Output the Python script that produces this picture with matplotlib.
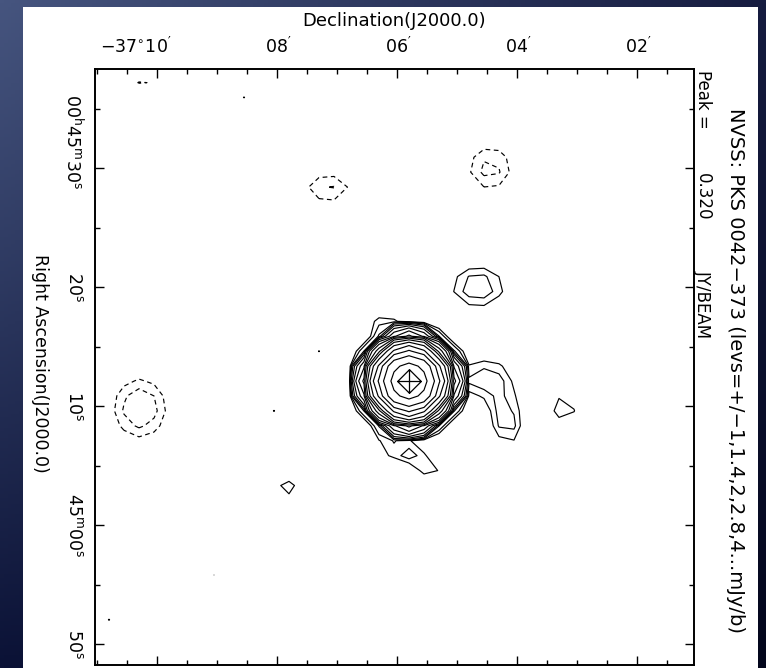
import numpy as np
import matplotlib
matplotlib.use("Agg")
import matplotlib.pyplot as plt
from matplotlib import transforms
from matplotlib.path import Path
from matplotlib.patches import Rectangle
from matplotlib.colors import to_rgb

plt.rcParams["font.family"] = ["DejaVu Sans"]
plt.rcParams["mathtext.default"] = "regular"

# ---- source model: NVSS components -------------------------------------
# x: declination offset in arcmin (x = -10 is -37°10'), y: RA seconds after 00h45m00s
# profile power 2 = gaussian; the core is flatter-topped than a gaussian
comp_dec = [-5.800,
            -4.500, -4.200, -4.150,
            -6.083, -5.700, -5.450, -6.233,
            -4.650, -3.217, -7.833,
            -7.300, -9.067, -10.783,
            -4.450, -7.150, -10.283, -8.533, -10.200, -8.050, -10.783]
comp_ra = [12.10,
           12.35, 9.66, 7.73,
           6.55, 5.71, 4.71, 17.39,
           20.00, 9.83, 3.03,
           14.54, -4.29, 18.24,
           30.00, 28.32, 9.83, 36.13, 37.23, 9.50, -7.98]
comp_peak = [320.0,
             1.85, 1.6, 1.4,
             1.8, 1.4, 1.5, 1.3,
             1.9, 1.35, 1.3,
             1.03, 1.02, 1.02,
             -1.65, -1.5, -1.95, -1.06, -1.10, -1.04, -1.04]
comp_sig_dec = [25,
                20, 12, 10,
                16, 10, 10, 16,
                22, 14, 14,
                8, 8, 8,
                20, 22, 22, 10, 18, 8, 8]
comp_sig_ra = [25,
               15, 14, 10,
               8, 6, 6, 8,
               17, 16, 12,
               8, 8, 8,
               20, 15, 25, 10, 8, 8, 8]
comp_power = [3] + [2] * 20

peak_jy = 0.320
lev_base = 1.0          # mJy/beam
n_pos_levels = 17
n_neg_levels = 4

dec_ticks = [-10, -8, -6, -4, -2]
dec_labels = [r"$-37^{\circ}10^{\prime}$", r"$08^{\prime}$", r"$06^{\prime}$",
              r"$04^{\prime}$", r"$02^{\prime}$"]
ra_ticks = [30, 20, 10, 0, -10]
ra_labels = [r"$00^{h}45^{m}30^{s}$", r"$20^{s}$", r"$10^{s}$",
             r"$45^{m}00^{s}$", r"$50^{s}$"]

W, H = 766, 668
DPI = 100

# ---- sky grid (15 arcsec pixels, centred on the main peak) -------------
pix = 15.0
sec_to_arcsec = 15.0 * np.cos(np.radians(37.1))
g = np.arange(-330, 331, pix)
GX, GY = np.meshgrid(g, g)
X = comp_dec[0] + GX / 60.0
Y = comp_ra[0] + GY / sec_to_arcsec
F = np.zeros_like(X)
for xd, yr, a, sx, sy, p in zip(comp_dec, comp_ra, comp_peak, comp_sig_dec,
                                comp_sig_ra, comp_power):
    dx = (X - xd) * 60.0
    dy = (Y - yr) * sec_to_arcsec
    q = (dx / sx) ** 2 + (dy / sy) ** 2
    F += a * np.exp(-0.5 * q ** (p / 2.0))

pos_levels = lev_base * np.sqrt(2.0) ** np.arange(n_pos_levels)
neg_levels = -lev_base * np.sqrt(2.0) ** np.arange(n_neg_levels)[::-1]

# ---- figure -------------------------------------------------------------
fig = plt.figure(figsize=(W / DPI, H / DPI), dpi=DPI)

def fx(px):
    return px / W

def fy(py):
    return 1 - py / H

# dark sky backdrop
bg = fig.add_axes([0, 0, 1, 1], zorder=-10)
bg.set_axis_off()
tl, tr = np.array(to_rgb("#46557f")), np.array(to_rgb("#161c40"))
bl, br = np.array(to_rgb("#0b1236")), np.array(to_rgb("#03061c"))
u = np.linspace(0, 1, 200)[None, :, None]
v = np.linspace(0, 1, 200)[:, None, None]
img = (1 - v) * ((1 - u) * tl + u * tr) + v * ((1 - u) * bl + u * br)
bg.imshow(img, extent=[0, 1, 0, 1], aspect="auto")
bg.set_xlim(0, 1)
bg.set_ylim(0, 1)

# white page
fig.patches.append(Rectangle((fx(23), 0), fx(758) - fx(23), fy(7),
                             transform=fig.transFigure, facecolor="white",
                             edgecolor="none", zorder=-5))

ax = fig.add_axes([fx(95), fy(665), fx(694) - fx(95), fy(69) - fy(665)])
ax.set_facecolor("white")

ax.contour(X, Y, F, levels=pos_levels, colors="black", linewidths=0.85)
cn = ax.contour(X, Y, F, levels=neg_levels, colors="black", linewidths=0.85)
cn.set_linestyle((0, (4, 3)))

# peak position marker: diamond with cross
mk = Path([(0, 1), (1, 0), (0, -1), (-1, 0), (0, 1), (-1, 0), (1, 0), (0, -1), (0, 1)],
          [Path.MOVETO, Path.LINETO, Path.LINETO, Path.LINETO, Path.LINETO,
           Path.MOVETO, Path.LINETO, Path.MOVETO, Path.LINETO])
ax.plot([comp_dec[0]], [comp_ra[0]], marker=mk, markersize=17, mew=0.9,
        mec="black", mfc="none", linestyle="none")

ax.set_xlim(-11.033, -1.05)
ax.set_ylim(-11.76, 38.32)

for s in ax.spines.values():
    s.set_linewidth(1.4)

ax.set_xticks(dec_ticks)
ax.set_xticks(np.arange(-11, -1, 0.5), minor=True)
ax.set_yticks(ra_ticks)
ax.set_yticks(np.arange(-10, 38, 5), minor=True)
ax.tick_params(which="both", direction="in", top=True, bottom=True, left=True,
               right=True, labeltop=False, labelbottom=False, labelleft=False,
               labelright=False, width=1.0, color="black")
ax.tick_params(which="major", length=6.5)
ax.tick_params(which="minor", length=3.6)

# Dec labels above the frame; the leading "-37°" hangs left of the tick
xtrans = ax.get_xaxis_transform()
for i, (t, lab) in enumerate(zip(dec_ticks, dec_labels)):
    tr_ = transforms.offset_copy(xtrans, fig=fig, x=(-21 if i == 0 else 1), y=12,
                                 units="dots")
    ax.text(t, 1, lab, transform=tr_, ha="center", va="bottom", fontsize=12.5)

# RA labels, written top-to-bottom
ytrans = ax.get_yaxis_transform()
for i, (t, lab) in enumerate(zip(ra_ticks, ra_labels)):
    tr_ = transforms.offset_copy(ytrans, fig=fig, x=-12, y=(26 if i == 0 else 0),
                                 units="dots")
    ax.text(0, t, lab, transform=tr_, rotation=-90, ha="right", va="center",
            fontsize=12.5)

fig.text(fx(394), fy(21), "Declination(J2000.0)", ha="center", va="center",
         fontsize=13)
fig.text(fx(40), fy(363), "Right Ascension(J2000.0)", rotation=-90,
         ha="center", va="center", fontsize=12.5)

fig.text(fx(703), fy(70), "Peak =", rotation=-90, ha="center", va="top", fontsize=12)
fig.text(fx(703), fy(173), f"{peak_jy:.3f}", rotation=-90, ha="center", va="top",
         fontsize=12)
fig.text(fx(703), fy(270), "JY/BEAM", rotation=-90, ha="center", va="top", fontsize=12)
fig.text(fx(735), fy(108), "NVSS: PKS 0042\u2212373 (levs=+/\u22121,1.4,2,2.8,4...mJy/b)",
         rotation=-90, ha="center", va="top", fontsize=14)

fig.savefig("out.png", dpi=DPI)
